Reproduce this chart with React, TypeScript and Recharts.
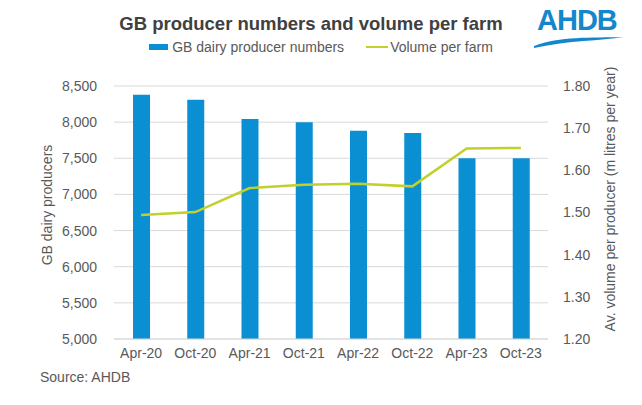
import { ComposedChart, Bar, Line, XAxis, YAxis, CartesianGrid, Legend } from 'recharts';

const periods = ['Apr-20', 'Oct-20', 'Apr-21', 'Oct-21', 'Apr-22', 'Oct-22', 'Apr-23', 'Oct-23'];
const producers = [8380, 8310, 8045, 8000, 7880, 7850, 7500, 7500];
const volumePerFarm = [1.494, 1.501, 1.558, 1.566, 1.568, 1.562, 1.652, 1.653];
const leftTicks = [5000, 5500, 6000, 6500, 7000, 7500, 8000, 8500];
const rightTicks = [1.2, 1.3, 1.4, 1.5, 1.6, 1.7, 1.8];
const boundaryTicks = [0, 1, 2, 3, 4, 5, 6, 7, 8];

const data = periods.map((p, i) => ({ period: p, producers: producers[i], volume: volumePerFarm[i] }));

const BLUE = '#0b8fd3';
const LIME = '#c1d02a';
const GREY = '#595959';
const FONT = '"Liberation Sans", Arial, sans-serif';

const LegendContent = () => (
  <div style={{ display: 'flex', alignItems: 'center', justifyContent: 'center', fontSize: 14, color: GREY, fontFamily: FONT }}>
    <span style={{ display: 'inline-block', width: 19, height: 6, background: BLUE, marginRight: 4 }} />
    <span>GB dairy producer numbers</span>
    <span style={{ display: 'inline-block', width: 22, height: 2.5, background: LIME, marginLeft: 22, marginRight: 2 }} />
    <span>Volume per farm</span>
  </div>
);

export default function App() {
  return (
    <div style={{ position: 'absolute', left: 0, top: 0, width: 642, height: 405, background: '#fff', fontFamily: FONT }}>
      <div style={{ position: 'absolute', left: 0, width: 622, top: 13, textAlign: 'center', fontSize: 18.5, fontWeight: 'bold', color: '#404040' }}>
        GB producer numbers and volume per farm
      </div>
      <div style={{ position: 'absolute', left: 537, top: 4, fontSize: 29, fontWeight: 'bold', color: '#1487cc', letterSpacing: -1 }}>
        AHDB
      </div>
      <svg style={{ position: 'absolute', left: 530, top: 34 }} width={100} height={16}>
        <path d="M4 12 C 30 2, 60 4, 94 3 C 70 7, 40 6, 4 14 Z" fill="#1487cc" />
      </svg>
      <div style={{ position: 'absolute', left: 47, top: 205, transform: 'translate(-50%, -50%) rotate(-90deg)', whiteSpace: 'nowrap', fontSize: 14, color: GREY }}>
        GB dairy producers
      </div>
      <div style={{ position: 'absolute', left: 610, top: 199, transform: 'translate(-50%, -50%) rotate(-90deg)', whiteSpace: 'nowrap', fontSize: 14, color: GREY }}>
        Av. volume per producer (m litres per year)
      </div>
      <div style={{ position: 'absolute', left: 40, top: 369, fontSize: 14, color: GREY }}>Source: AHDB</div>
      <ComposedChart width={642} height={405} data={data} margin={{ top: 70, right: 0, bottom: 36, left: 0 }} style={{ position: 'absolute', left: 0, top: 0 }}>
        <CartesianGrid yAxisId="left" vertical={false} stroke="#d9d9d9" />
        <XAxis
          xAxisId="bounds"
          type="number"
          domain={[0, 8]}
          ticks={boundaryTicks}
          height={0}
          axisLine={false}
          tickLine={{ stroke: '#d9d9d9' }}
          tickSize={5}
          tick={() => <g />}
        />
        <XAxis
          dataKey="period"
          height={30}
          axisLine={{ stroke: '#d9d9d9' }}
          tickLine={false}
          tickSize={0}
          tickMargin={9}
          tick={{ fill: GREY, fontSize: 14, fontFamily: FONT }}
          interval={0}
        />
        <YAxis
          yAxisId="left"
          width={114}
          domain={[5000, 8500]}
          ticks={leftTicks}
          axisLine={false}
          tickLine={false}
          tickSize={0}
          tickMargin={17}
          tick={{ fill: GREY, fontSize: 14, fontFamily: FONT }}
          tickFormatter={(v: number) => v.toLocaleString('en-GB')}
        />
        <YAxis
          yAxisId="right"
          orientation="right"
          width={94}
          domain={[1.2, 1.8]}
          ticks={rightTicks}
          axisLine={false}
          tickLine={false}
          tickSize={0}
          tickMargin={15}
          tick={{ fill: GREY, fontSize: 14, fontFamily: FONT }}
          tickFormatter={(v: number) => v.toFixed(2)}
        />
        <Legend verticalAlign="top" content={<LegendContent />} wrapperStyle={{ top: 39, left: 0, width: 642 }} />
        <Bar yAxisId="left" dataKey="producers" name="GB dairy producer numbers" fill={BLUE} barSize={17} isAnimationActive={false} />
        <Line yAxisId="right" dataKey="volume" name="Volume per farm" type="linear" stroke={LIME} strokeWidth={2.5} dot={false} isAnimationActive={false} />
      </ComposedChart>
    </div>
  );
}
